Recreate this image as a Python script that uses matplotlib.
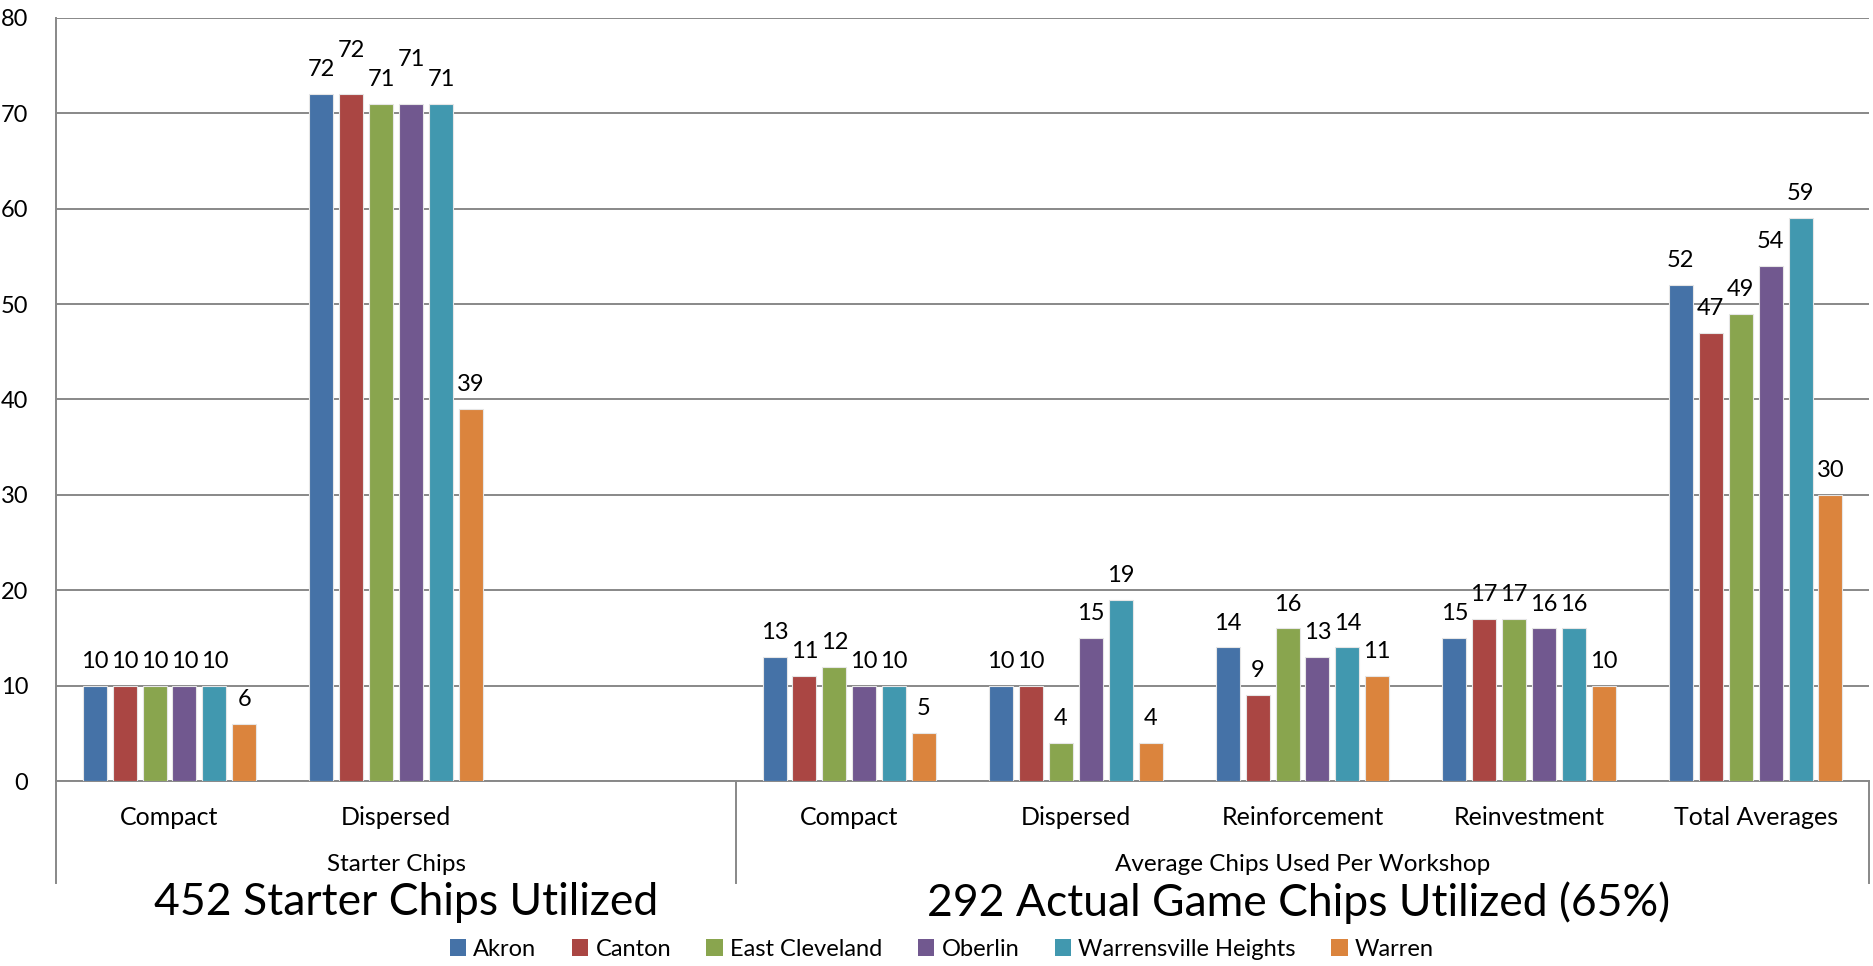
import numpy as np
import matplotlib.pyplot as plt
from matplotlib.patches import Patch
from matplotlib.transforms import blended_transform_factory

plt.rcParams['font.family'] = ['Lato', 'DejaVu Sans']

# slots on the x axis (third slot of the starter group is empty)
categories = ["Compact", "Dispersed", "", "Compact", "Dispersed",
              "Reinforcement", "Reinvestment", "Total Averages"]
groups = ["Starter Chips", "Average Chips Used Per Workshop"]
group_bounds = [(-0.5, 2.5), (2.5, 7.5)]

series = ["Akron", "Canton", "East Cleveland", "Oberlin", "Warrensville Heights", "Warren"]
akron = [10, 72, np.nan, 13, 10, 14, 15, 52]
canton = [10, 72, np.nan, 11, 10, 9, 17, 47]
east_cleveland = [10, 71, np.nan, 12, 4, 16, 17, 49]
oberlin = [10, 71, np.nan, 10, 15, 13, 16, 54]
warrensville = [10, 71, np.nan, 10, 19, 14, 16, 59]
warren = [6, 39, np.nan, 5, 4, 11, 10, 30]
values = [akron, canton, east_cleveland, oberlin, warrensville, warren]

colors = ["#4572A7", "#AA4643", "#89A54E", "#71588F", "#4198AF", "#DB843D"]

big_texts = ["452 Starter Chips Utilized", "292 Actual Game Chips Utilized (65%)"]

fig = plt.figure(figsize=(18.74, 9.66), dpi=100)
ax = fig.add_axes([0.030, 0.1915, 0.9673, 0.7899])

x = np.arange(len(categories))
step = 0.132
width = 0.106
offsets = (np.arange(len(series)) - (len(series) - 1) / 2) * step

# labels that the original chart lifted to avoid overlapping (series, slot)
lifted = {(1, 1), (3, 1)}

for i, name in enumerate(series):
    vals = np.array(values[i], dtype=float)
    ax.bar(x + offsets[i], vals, width, color=colors[i], label=name,
           edgecolor='#e6e6e6', linewidth=0.8, zorder=3)
    for j, (xi, v) in enumerate(zip(x + offsets[i], vals)):
        if np.isnan(v):
            continue
        dy = 10 + (14 if (i, j) in lifted else 0)
        ax.annotate(f"{int(v)}", (xi, v), xytext=(0, dy), textcoords='offset points',
                    ha='center', va='bottom', fontsize=17)

ax.set_xlim(-0.5, 7.5)
ax.set_ylim(0, 80)
ax.set_yticks(np.arange(0, 81, 10))
ax.tick_params(axis='y', length=0, pad=20, labelsize=17)
ax.set_xticks([])
ax.yaxis.grid(True, color='#888888', linewidth=1.4, zorder=0)
ax.set_axisbelow(True)
for s in ['top', 'right']:
    ax.spines[s].set_visible(False)
ax.spines['left'].set_color('#888888')
ax.spines['left'].set_linewidth(1.4)
ax.spines['bottom'].set_color('#888888')
ax.spines['bottom'].set_linewidth(1.4)

trans = blended_transform_factory(ax.transData, fig.transFigure)
for xi, c in zip(x, categories):
    ax.text(xi, 0.154, c, transform=trans, ha='center', va='center', fontsize=18)

for g, (a, b) in zip(groups, group_bounds):
    ax.text((a + b) / 2, 0.1046, g, transform=trans, ha='center', va='center', fontsize=17.5)
for xb in [-0.5, 2.5, 7.5]:
    ax.plot([xb, xb], [0.1915, 0.086], transform=trans, color='#888888',
            linewidth=1.4, clip_on=False)

fig.text(0.2166, 0.066, big_texts[0], ha='center', va='center', fontsize=32)
fig.text(0.693, 0.066, big_texts[1], ha='center', va='center', fontsize=32)

handles = [Patch(facecolor=c, edgecolor='none') for c in colors]
fig.legend(handles, series, loc='center', bbox_to_anchor=(0.5025, 0.0175), ncol=6,
           frameon=False, fontsize=17, handlelength=0.7, handleheight=0.7,
           handletextpad=0.3, columnspacing=1.5)

fig.savefig("out.png", dpi=100, facecolor='white')
